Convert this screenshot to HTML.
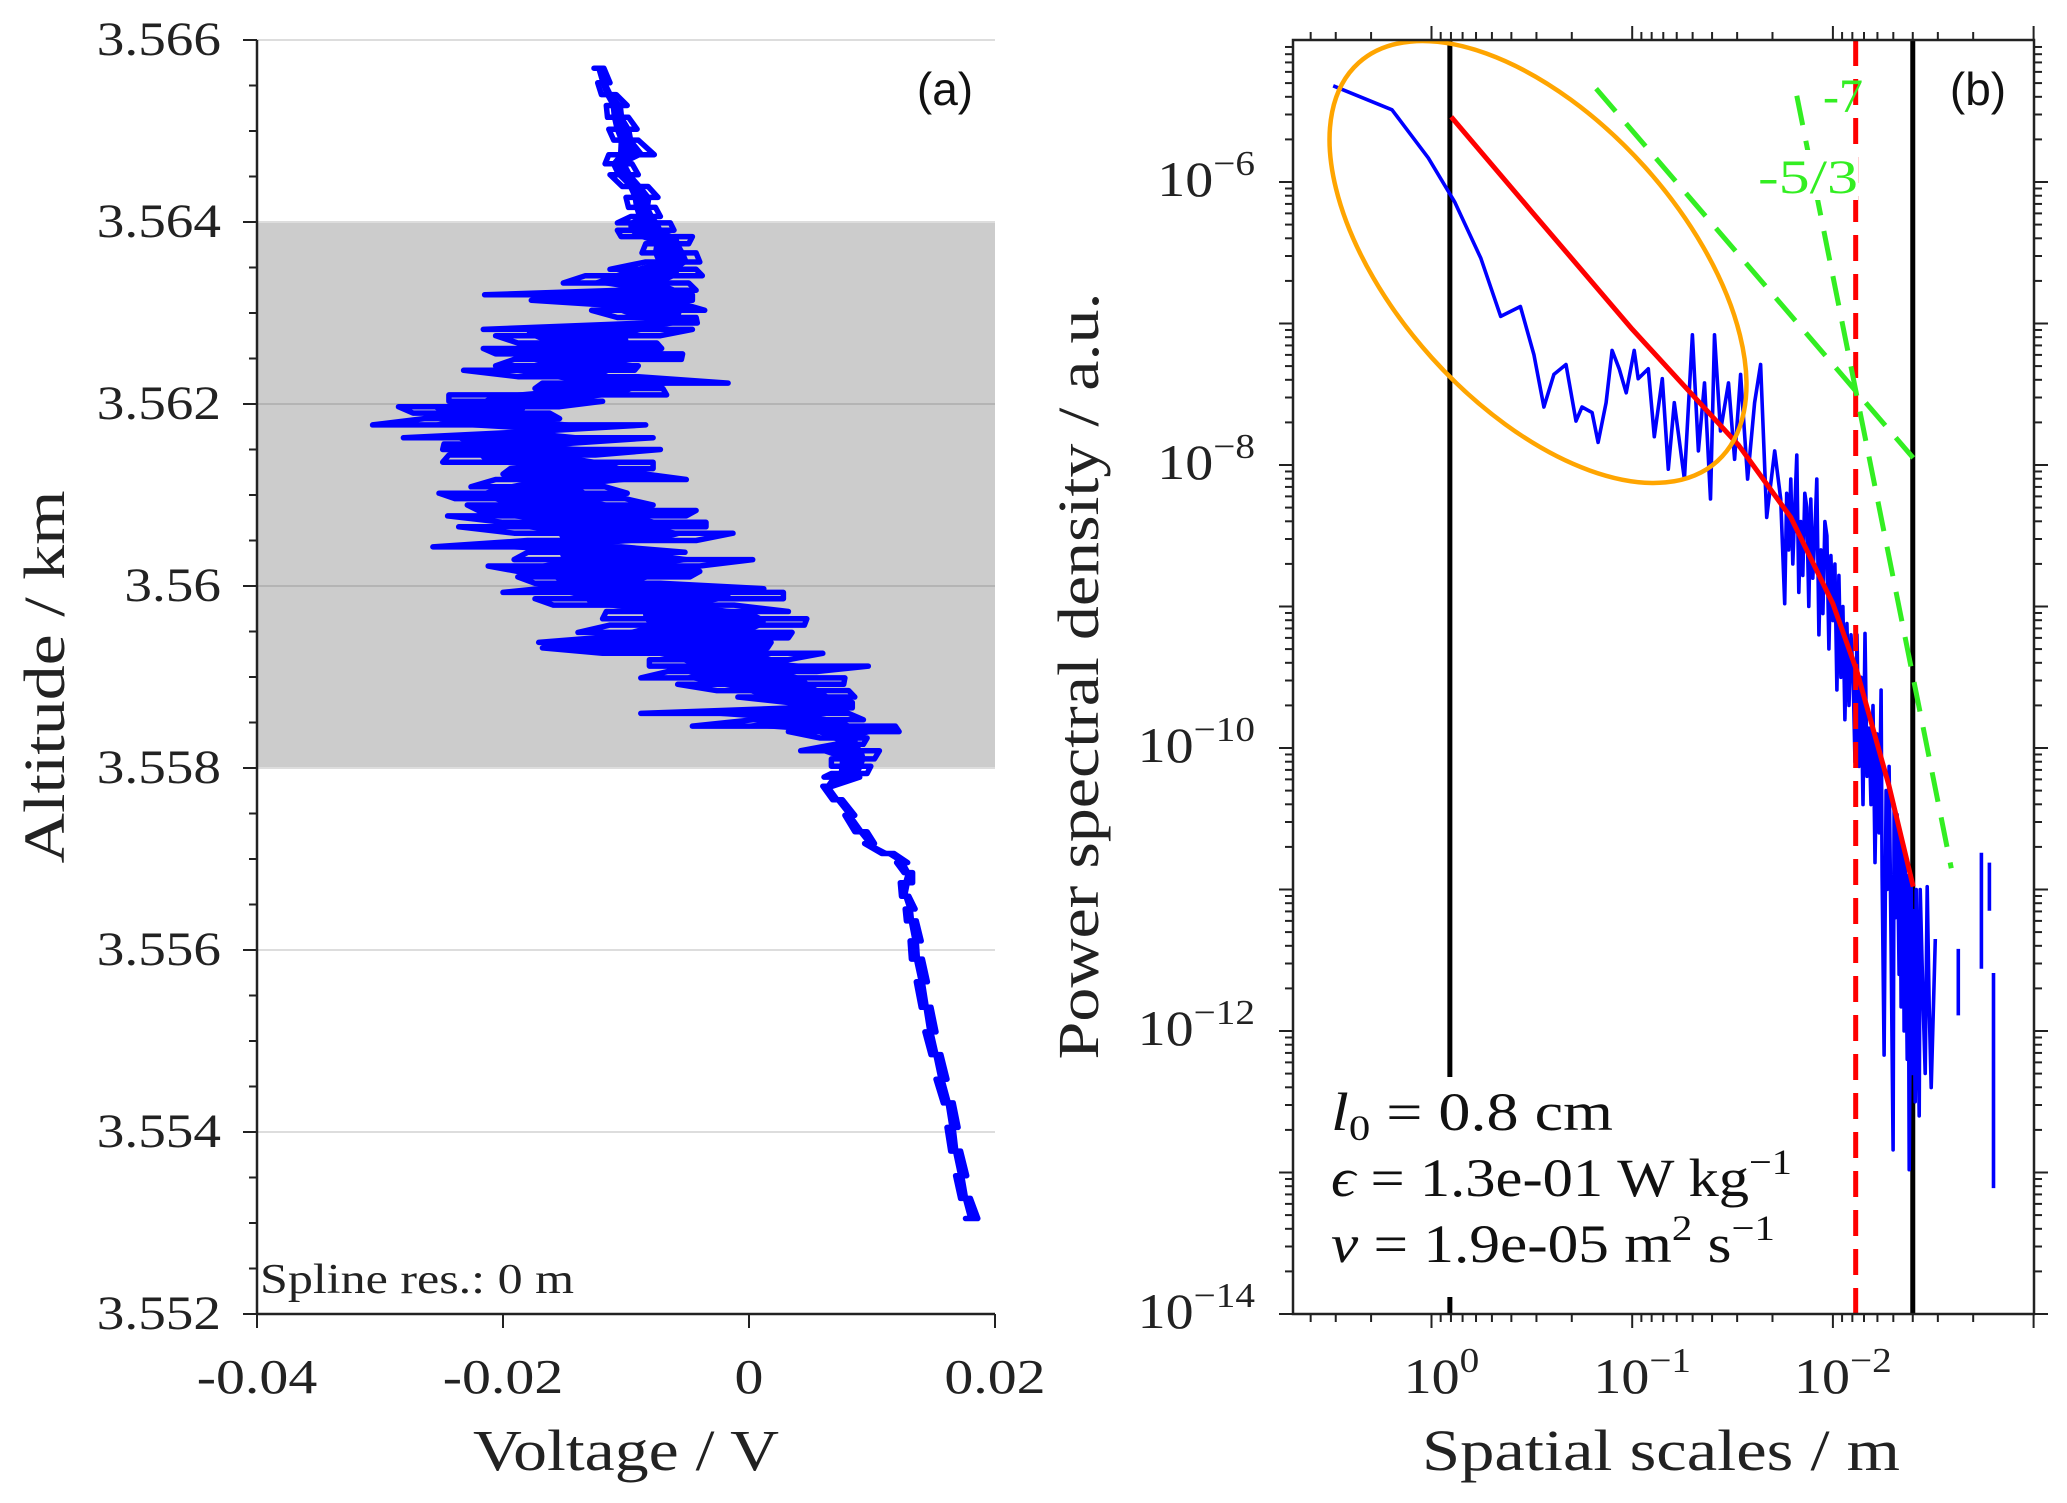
<!DOCTYPE html>
<html><head><meta charset="utf-8"><style>
html,body{margin:0;padding:0;background:#fff;}
svg{display:block;font-family:"Liberation Serif",serif;}
</style></head><body>
<svg id="fig" width="2067" height="1503" viewBox="0 0 2067 1503" xmlns="http://www.w3.org/2000/svg">
<g id="panelA"></g>
<g id="panelB"></g>
</svg>
<script>
// ---------- Panel (a) data ----------
const rowAlt = [3.56569,3.56553,3.56540,3.56528,3.56515,3.56502,3.56490,3.56474,3.56464,3.56452,3.56439,3.56427,3.56416,3.56406,
3.56399,3.56391,3.56384,3.56376,3.56366,3.56356,3.56348,3.56341,3.56333,3.56325,3.56320,3.56314,3.56308,3.56303,3.56295,3.56289,3.56282,3.56275,3.56267,3.56261,3.56255,3.56249,3.56242,3.56237,3.56230,3.56223,3.56217,3.56210,3.56203,3.56197,3.56190,3.56184,3.56177,3.56170,3.56163,3.56156,3.56150,3.56144,3.56136,3.56129,3.56123,3.56117,3.56109,3.56102,3.56096,3.56089,3.56083,3.56077,3.56070,3.56065,3.56058,3.56050,3.56043,3.56037,3.56029,3.56022,3.56016,3.56010,3.56003,3.55997,3.55993,3.55986,3.55979,3.55972,3.55964,3.55957,3.55949,3.55943,3.55938,3.55932,3.55926,3.55919,3.55912,3.55906,3.55899,3.55892,3.55885,3.55878,3.55872,3.55866,3.55860,3.55853,3.55846,3.55840,3.55833,3.55826,3.55819,3.55810,3.55802,3.55794,3.55790,
3.55780,3.55765,3.55748,3.55730,3.55717,3.55706,3.55696,3.55685,3.55674,3.55659,3.55645,3.55632,3.55610,3.55590,3.55565,3.55537,3.55510,3.55485,3.55458,3.55432,3.55405,3.55379,3.55352,3.55327,3.55305];
const rowLeftV = [-0.0126,-0.0123,-0.0120,-0.0116,-0.0115,-0.0114,-0.0110,-0.0114,-0.0117,-0.0113,-0.0103,-0.0100,-0.0098,-0.0096,
-0.0107,-0.0107,-0.0104,-0.0084,-0.0087,-0.0084,-0.0113,-0.0133,-0.0151,-0.0104,-0.0215,-0.0177,-0.0107,-0.0128,-0.0107,-0.0084,-0.0216,-0.0206,-0.0188,-0.0216,-0.0206,-0.0191,-0.0206,-0.0232,-0.0188,-0.0168,-0.0174,-0.0244,-0.0244,-0.0285,-0.0273,-0.0264,-0.0306,-0.0172,-0.0281,-0.0248,-0.0249,-0.0244,-0.0249,-0.0194,-0.0200,-0.0206,-0.0226,-0.0252,-0.0239,-0.0229,-0.0220,-0.0245,-0.0200,-0.0236,-0.0191,-0.0180,-0.0257,-0.0180,-0.0191,-0.0212,-0.0188,-0.0188,-0.0174,-0.0171,-0.0200,-0.0174,-0.0159,-0.0116,-0.0119,-0.0113,-0.0139,-0.0125,-0.0171,-0.0168,-0.0119,-0.0081,-0.0081,-0.0066,-0.0088,-0.0058,-0.0026,-0.0009,0.0032,0.0035,-0.0088,0.0003,-0.0046,0.0032,0.0058,0.0070,0.0042,0.0067,0.0067,0.0067,0.0061,
0.0060,0.0068,0.0078,0.0086,0.0094,0.0108,0.0120,0.0126,0.0123,0.0124,0.0127,0.0128,0.0131,0.0132,0.0136,0.0140,0.0143,0.0148,0.0152,0.0158,0.0161,0.0164,0.0168,0.0172,0.0176];
const rowRightV = [-0.0118,-0.0113,-0.0108,-0.0099,-0.0098,-0.0091,-0.0090,-0.0077,-0.0095,-0.0090,-0.0082,-0.0074,-0.0076,-0.0072,
-0.0064,-0.0061,-0.0046,-0.0049,-0.0043,-0.0040,-0.0043,-0.0038,-0.0049,-0.0043,-0.0046,-0.0046,-0.0049,-0.0036,-0.0043,-0.0042,-0.0046,-0.0072,-0.0075,-0.0071,-0.0054,-0.0055,-0.0090,-0.0093,-0.0090,-0.0017,-0.0070,-0.0067,-0.0119,-0.0154,-0.0162,-0.0154,-0.0084,-0.0172,-0.0078,-0.0154,-0.0072,-0.0125,-0.0078,-0.0078,-0.0084,-0.0051,-0.0117,-0.0099,-0.0101,-0.0078,-0.0043,-0.0051,-0.0035,-0.0035,-0.0013,-0.0043,-0.0104,-0.0052,0.0003,-0.0040,-0.0040,-0.0048,-0.0072,0.0012,0.0028,0.0028,-0.0012,0.0032,0.0047,0.0045,0.0035,0.0032,0.0018,0.0015,0.0060,0.0032,0.0097,0.0055,0.0078,0.0077,0.0081,0.0086,0.0084,0.0084,0.0081,0.0093,0.0119,0.0122,0.0096,0.0093,0.0106,0.0102,0.0099,0.0096,0.0090,
0.0068,0.0076,0.0086,0.0096,0.0102,0.0118,0.0129,0.0133,0.0133,0.0130,0.0135,0.0136,0.0140,0.0141,0.0145,0.0148,0.0152,0.0156,0.0161,0.0166,0.0170,0.0172,0.0177,0.0180,0.0186];
const altTicks = [3.552,3.554,3.556,3.558,3.56,3.562,3.564,3.566];
const altTickLabels = ["3.552","3.554","3.556","3.558","3.56","3.562","3.564","3.566"];
const voltTicks = [-0.04,-0.02,0,0.02];
const voltTickLabels = ["-0.04","-0.02","0","0.02"];
const shadedBand = [3.558,3.564];

// ---------- Panel (b) data (log10 values) ----------
const specLogScale = [0.49,0.197,0.016,-0.115,-0.246,-0.345,-0.443,-0.51,-0.56,-0.61,-0.67,-0.72,-0.75,-0.80,-0.83,-0.87,-0.90,-0.935,-0.97,-1.01,-1.03,-1.08,-1.11,-1.15,-1.18,-1.21,-1.26,-1.30,-1.33,-1.36,-1.39,-1.41,-1.44,-1.48,-1.51,-1.54,-1.575,-1.61,-1.64,-1.67,-1.71,-1.74,
-1.76,-1.77,-1.78,-1.79,-1.80,-1.81,-1.82,-1.83,-1.84,-1.85,-1.86,-1.87,-1.88,-1.89,-1.90,-1.91,-1.92,-1.93,-1.94,-1.95,-1.96,-1.97,-1.98,-1.99,-2.00,-2.01,-2.02,-2.03,-2.04,-2.05,-2.06,-2.07,-2.08,-2.09,-2.10,-2.11,-2.12,-2.13,-2.14,-2.15,-2.16,-2.17,-2.18,-2.19,-2.20,-2.21,-2.22,-2.23,-2.24,-2.245,-2.255,-2.265,-2.27,-2.28,-2.29,-2.30,-2.305,-2.31,-2.32,-2.33,-2.335,-2.34,-2.35,-2.355,-2.36,-2.37,-2.375,-2.38,-2.39,-2.395,-2.40,-2.41,-2.415,-2.42,-2.43,-2.435,-2.45,-2.46,-2.47,-2.48,-2.49,-2.51,
null,-2.625,-2.625,null,-2.74,-2.74,null,-2.78,-2.78,null,-2.80,-2.80];
const specLogPsd = [-5.32,-5.49,-5.83,-6.14,-6.54,-6.95,-6.88,-7.22,-7.59,-7.36,-7.29,-7.69,-7.59,-7.63,-7.84,-7.56,-7.19,-7.32,-7.49,-7.19,-7.39,-7.32,-7.80,-7.39,-8.03,-7.56,-8.10,-7.08,-7.90,-7.42,-8.24,-7.08,-7.76,-7.42,-7.96,-7.36,-8.10,-7.56,-7.29,-8.37,-7.90,-8.24,
-8.98,-8.2,-8.6,-8.10,-8.7,-8.3,-7.93,-8.9,-8.4,-8.78,-8.2,-8.30,-9.0,-8.24,-8.8,-8.5,-8.10,-9.2,-8.6,-9.05,-8.4,-8.50,-9.3,-8.64,-9.10,-8.7,-9.59,-8.78,-9.5,-9.0,-9.8,-9.12,-9.70,-9.2,-9.46,-10.1,-9.20,-10.13,-9.50,-10.4,-9.19,-10.20,-9.86,-10.40,-9.7,-10.81,-9.90,-10.6,-9.59,-10.90,-12.17,-10.30,-11.0,-10.13,-11.40,-12.84,-10.4,-11.2,-10.47,-11.60,-10.6,-11.83,-10.70,-12.0,-10.81,-12.20,-10.9,-12.98,-10.90,-12.3,-11.15,-12.50,-11.0,-11.49,-12.6,-11.00,-11.83,-12.30,-10.98,-11.83,-12.40,-11.35,
null,-11.42,-11.89,null,-10.74,-11.56,null,-10.81,-11.15,null,-11.59,-13.11];
const fitLogScale = [-0.098,-0.5,-1.0,-1.53,-1.79,-2.0,-2.12,-2.28,-2.40];
const fitLogPsd = [-5.54,-6.21,-7.04,-7.86,-8.37,-8.98,-9.46,-10.27,-10.98];
const slope53LogScale = [-0.82,-2.40];
const slope53LogPsd = [-5.34,-7.95];
const slope7LogScale = [-1.82,-2.59];
const slope7LogPsd = [-5.39,-10.85];
const rangeLimits = [0.81,0.004];
const kolmogorovScale = [0.0077];
const psdTickExp = [-14,-12,-10,-8,-6];
const scaleTickExp = [0,-1,-2];

const NS="http://www.w3.org/2000/svg";
function mk(tag, attrs, parent){const e=document.createElementNS(NS,tag);for(const k in attrs)e.setAttribute(k,attrs[k]);parent.appendChild(e);return e;}
function widen(t,f){const L=t.getComputedTextLength();t.setAttribute('textLength',(L*f).toFixed(1));t.setAttribute('lengthAdjust','spacingAndGlyphs');}

// ===== Panel A =====
const A = document.getElementById('panelA');
const aL=257,aR=995,aT=40,aB=1314;
const xA=v=>aL+(v+0.04)/0.06*(aR-aL);
const yA=h=>aT+(3.566-h)/0.014*(aB-aT);
let e;
e=mk('rect',{x:aL,y:yA(shadedBand[1]),width:aR-aL,height:yA(shadedBand[0])-yA(shadedBand[1]),fill:'#cccccc'},A);


altTicks.forEach((t,i)=>{
  const inBand = t>shadedBand[0]&&t<shadedBand[1];
  const g=mk('line',{x1:aL,x2:aR,y1:yA(t),y2:yA(t),stroke:inBand?'#b4b4b4':'#dddddd','stroke-width':2},A);
  
  
});
let core='',coreBack='';
rowAlt.forEach((h,i)=>{
  const l=rowLeftV[i],r=rowRightV[i],w=r-l;
  core+=(i===0?'M':'L')+xA(l+w*0.2).toFixed(1)+' '+yA(h).toFixed(1);
  coreBack='L'+xA(r-w*0.2).toFixed(1)+' '+yA(h).toFixed(1)+coreBack;
});
e=mk('path',{d:core+coreBack+'Z',fill:'#0000ff',stroke:'none'},A);


let d='';
rowAlt.forEach((h,i)=>{
  const a=(i%2===0)?[rowLeftV[i],rowRightV[i]]:[rowRightV[i],rowLeftV[i]];
  d+=(i===0?'M':'L')+xA(a[0]).toFixed(1)+' '+yA(h).toFixed(1)+'L'+xA(a[1]).toFixed(1)+' '+yA(h).toFixed(1);
});
e=mk('path',{d:d,fill:'none',stroke:'#0000ff','stroke-width':5.5,'stroke-linejoin':'round','stroke-linecap':'round'},A);


e=mk('line',{x1:aL,x2:aL,y1:aT,y2:aB+1,stroke:'#222','stroke-width':2.5},A);


e=mk('line',{x1:aL-1,x2:aR,y1:aB,y2:aB,stroke:'#222','stroke-width':2.5},A);


for(let k=0;k<=28;k++){
  const t=3.552+k*0.0005; const major=(k%4===0);
  const tk=mk('line',{x1:aL-(major?14:8),x2:aL,y1:yA(t),y2:yA(t),stroke:'#222','stroke-width':2},A);
  
  
}
altTicks.forEach((t,i)=>{
  const tx=mk('text',{x:221,y:yA(t)+15,'text-anchor':'end','font-size':48,fill:'#222'},A);
  tx.textContent=altTickLabels[i];
  
  
  widen(tx,1.15);
});
voltTicks.forEach((t,i)=>{
  const tk=mk('line',{x1:xA(t),x2:xA(t),y1:aB,y2:aB+14,stroke:'#222','stroke-width':2},A);
  
  
  const tx=mk('text',{x:xA(t),y:1393,'text-anchor':'middle','font-size':49,fill:'#222'},A);
  tx.textContent=voltTickLabels[i];
  
  
  widen(tx,1.18);
});
e=mk('text',{x:626,y:1470,'text-anchor':'middle','font-size':58,fill:'#222',textLength:306,lengthAdjust:'spacingAndGlyphs'},A);
e.textContent='Voltage / V';


e=mk('text',{x:0,y:0,'text-anchor':'middle','font-size':58,fill:'#222',transform:'translate(64,677) rotate(-90)',textLength:373,lengthAdjust:'spacingAndGlyphs'},A);
e.textContent='Altitude / km';


e=mk('text',{x:260,y:1293,'font-size':42,fill:'#222',textLength:314,lengthAdjust:'spacingAndGlyphs'},A);
e.textContent='Spline res.:  0 m';


e=mk('text',{x:945,y:105,'text-anchor':'middle','font-size':46,fill:'#111','font-family':'Liberation Sans, sans-serif'},A);
e.textContent='(a)';



// ===== Panel B =====
const B=document.getElementById('panelB');
const bL=1293,bR=2034,bT=40,bB=1314;
const xB=ls=>1431.5-ls*200.7;
const yB=lp=>182-(lp+6)*141.5;
const defs=mk('defs',{},B);
const cp=mk('clipPath',{id:'clipB'},defs);
mk('rect',{x:bL,y:bT,width:bR-bL,height:bB-bT},cp);
const plot=mk('g',{'clip-path':'url(#clipB)'},B);


function polyD(xs,ys){let s='',pen=false;for(let i=0;i<xs.length;i++){if(xs[i]===null||ys[i]===null){pen=false;continue;}s+=(pen?'L':'M')+xB(xs[i]).toFixed(1)+' '+yB(ys[i]).toFixed(1);pen=true;}return s;}
rangeLimits.forEach((s,i)=>{
  const x=xB(Math.log10(s));
  if(i===0){
    e=mk('line',{x1:x,x2:x,y1:bT,y2:1077,stroke:'#000','stroke-width':5},plot);
    
    
    e=mk('line',{x1:x,x2:x,y1:1297,y2:bB,stroke:'#000','stroke-width':5},plot);
    
    
  } else {
    e=mk('line',{x1:x,x2:x,y1:bT,y2:bB,stroke:'#000','stroke-width':5},plot);
    
    
  }
});
e=mk('path',{d:polyD(specLogScale,specLogPsd),fill:'none',stroke:'#0000ff','stroke-width':3.6,'stroke-linejoin':'round'},plot);


e=mk('line',{x1:xB(Math.log10(kolmogorovScale[0])),x2:xB(Math.log10(kolmogorovScale[0])),y1:bT,y2:bB,stroke:'#ff0000','stroke-width':5,'stroke-dasharray':'26 13'},plot);


e=mk('path',{d:polyD(fitLogScale,fitLogPsd),fill:'none',stroke:'#ff0000','stroke-width':5,'stroke-linejoin':'round'},plot);


e=mk('path',{d:polyD(slope53LogScale,slope53LogPsd),fill:'none',stroke:'#33ee22','stroke-width':5,'stroke-dasharray':'30 16'},plot);


e=mk('path',{d:polyD(slope7LogScale,slope7LogPsd),fill:'none',stroke:'#33ee22','stroke-width':5,'stroke-dasharray':'30 16'},plot);


e=mk('ellipse',{cx:1538,cy:262,rx:268,ry:143,transform:'rotate(48 1538 262)',fill:'none',stroke:'#ffa500','stroke-width':4.5},plot);


mk('rect',{x:1760,y:150,width:98,height:50,fill:'#fff'},B);
e=mk('text',{x:1843,y:112,'font-size':48,fill:'#33ee22','text-anchor':'middle'},B);
e.textContent='-7';


e=mk('text',{x:1808,y:193,'font-size':48,fill:'#33ee22','text-anchor':'middle',textLength:100,lengthAdjust:'spacingAndGlyphs'},B);
e.textContent='-5/3';


e=mk('text',{x:1978,y:105,'text-anchor':'middle','font-size':46,fill:'#111','font-family':'Liberation Sans, sans-serif'},B);
e.textContent='(b)';


e=mk('rect',{x:bL,y:bT,width:bR-bL,height:bB-bT,fill:'none',stroke:'#222','stroke-width':2.5},B);


for(let ex=-14;ex<=-6;ex++){
  for(let m=1;m<=9;m++){
    const lp=ex+Math.log10(m); const y=yB(lp);
    if(y<bT-0.5||y>bB+0.5) continue;
    const len=m===1?14:8;
    [[bL-len,bL],[bR,bR+len]].forEach(p=>{
      const tk=mk('line',{x1:p[0],x2:p[1],y1:y,y2:y,stroke:'#222','stroke-width':2},B);
      
      
    });
  }
}
psdTickExp.forEach(ex=>{
  const tx=mk('text',{x:1255,y:yB(ex)+14,'text-anchor':'end','font-size':50,fill:'#222'},B);
  const t1=mk('tspan',{},tx); t1.textContent='10';
  const t2=mk('tspan',{dy:-21,'font-size':35},tx); t2.textContent='\u2212'+Math.abs(ex);
  
  
  widen(tx,1.12);
});
for(let ex=0;ex>=-3;ex--){
  for(let m=1;m<=9;m++){
    const ls=ex+Math.log10(m); const x=xB(ls);
    if(x<bL-0.5||x>bR+0.5) continue;
    const len=m===1?14:8;
    [[bB,bB+len],[bT-len,bT]].forEach(p=>{
      const tk=mk('line',{x1:x,x2:x,y1:p[0],y2:p[1],stroke:'#222','stroke-width':2},B);
      
      
    });
  }
}
scaleTickExp.forEach(ex=>{
  const tx=mk('text',{x:xB(ex)+10,y:1393,'text-anchor':'middle','font-size':50,fill:'#222'},B);
  const t1=mk('tspan',{},tx); t1.textContent='10';
  const t2=mk('tspan',{dy:-21,'font-size':35},tx); t2.textContent=ex===0?'0':'\u2212'+Math.abs(ex);
  
  
  widen(tx,1.12);
});
e=mk('text',{x:1661,y:1470,'text-anchor':'middle','font-size':58,fill:'#222',textLength:478,lengthAdjust:'spacingAndGlyphs'},B);
e.textContent='Spatial scales / m';


e=mk('text',{x:0,y:0,'text-anchor':'middle','font-size':58,fill:'#222',transform:'translate(1098,676) rotate(-90)',textLength:767,lengthAdjust:'spacingAndGlyphs'},B);
e.textContent='Power spectral density / a.u.';


const paramWidths=[282,461,444];
const params=[['l','0',' = 0.8 cm'],['\u03f5','',' = 1.3e-01 W kg'],['\u03bd','',' = 1.9e-05 m']];
params.forEach((p,i)=>{
  const tx=mk('text',{x:1331,y:1130+i*66,'font-size':54,fill:'#111'},B);
  const a=mk('tspan',{'font-style':'italic'},tx); a.textContent=p[0];
  if(p[1]){const s=mk('tspan',{dy:10,'font-size':36},tx); s.textContent=p[1]; const r=mk('tspan',{dy:-10},tx); r.textContent=p[2];}
  else {const r=mk('tspan',{},tx); r.textContent=p[2];}
  if(i===1){const s=mk('tspan',{dy:-22,'font-size':36},tx); s.textContent='\u22121';}
  if(i===2){const s=mk('tspan',{dy:-22,'font-size':36},tx); s.textContent='2'; const r=mk('tspan',{dy:22},tx); r.textContent=' s'; const s2=mk('tspan',{dy:-22,'font-size':36},tx); s2.textContent='\u22121';}
  tx.setAttribute('textLength',paramWidths[i]);
  tx.setAttribute('lengthAdjust','spacingAndGlyphs');
  
  
});
</script>
</body></html>
